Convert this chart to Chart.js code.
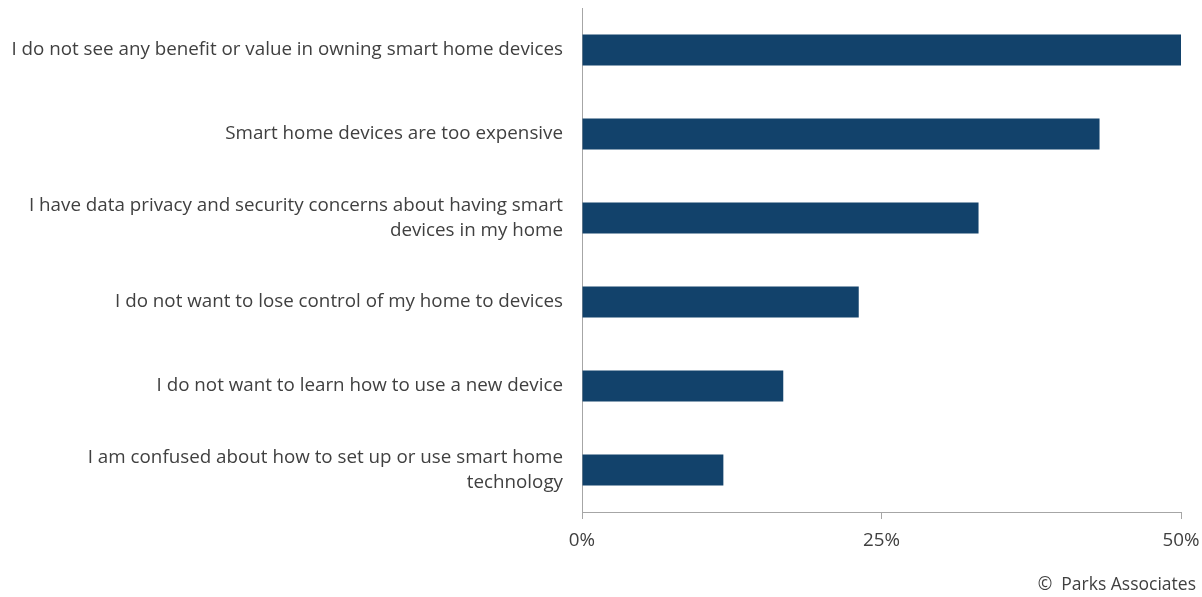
<!DOCTYPE html>
<html>
<head>
<meta charset="utf-8">
<script src="https://cdn.jsdelivr.net/npm/chart.js@4"></script>
<style>
  html, body { margin: 0; padding: 0; background: #fff; }
  #wrap { width: 1202px; height: 597px; position: relative; }
</style>
</head>
<body>
<div id="wrap"><canvas id="reasons"></canvas></div>
<script>
// Reasons for not owning smart home devices
const categories = [
    "I do not see any benefit or value in owning smart home devices",
    "Smart home devices are too expensive",
    ["I have data privacy and security concerns about having smart", "devices in my home"],
    "I do not want to lose control of my home to devices",
    "I do not want to learn how to use a new device",
    ["I am confused about how to set up or use smart home", "technology"]
];
const shares = [50.0, 43.2, 33.1, 23.1, 16.8, 11.8];
const tickValues = [0, 25, 50];
const sourceNote = '©  Parks Associates';

// petit plugin pour la mention de source en bas à droite
const sourcePlugin = {
    id: 'sourceNote',
    afterDraw(chart) {
        const c = chart.ctx;
        c.save();
        c.font = '17.5px "Open Sans"';
        c.fillStyle = '#404040';
        c.textAlign = 'right';
        c.textBaseline = 'middle';
        c.fillText(sourceNote, chart.width - 6, 585);
        c.restore();
    }
};

const ctx = document.getElementById('reasons').getContext('2d');

new Chart(ctx, {
    type: 'bar',
    data: {
        labels: categories,
        datasets: [{
            data: shares,
            backgroundColor: '#12426b',
            borderWidth: 0,
            categoryPercentage: 1,
            barPercentage: 0.37
        }]
    },
    plugins: [sourcePlugin],
    options: {
        indexAxis: 'y',
        responsive: true,
        maintainAspectRatio: false,
        animation: false,
        layout: { padding: { top: 8, right: 21, left: 0, bottom: 0 } },
        plugins: {
            legend: { display: false },
            tooltip: { enabled: false }
        },
        scales: {
            x: {
                min: 0,
                max: 50,
                afterBuildTicks: (scale) => {
                    scale.ticks = tickValues.map(v => ({ value: v }));
                },
                afterFit: (scale) => {
                    scale.height = 85;
                    scale.paddingLeft = 0;
                    scale.paddingRight = 0;
                },
                ticks: {
                    color: '#404040',
                    font: { family: 'Open Sans', size: 18.8 },
                    padding: 10,
                    maxRotation: 0,
                    callback: (v) => v + '%'
                },
                grid: {
                    drawOnChartArea: false,
                    drawTicks: true,
                    tickLength: 7,
                    color: '#a6a6a6'
                },
                border: { display: true, color: '#a6a6a6', width: 1 }
            },
            y: {
                afterFit: (scale) => {
                    scale.width = 582;
                    scale.paddingTop = 0;
                    scale.paddingBottom = 0;
                },
                ticks: {
                    color: '#404040',
                    font: { family: 'Open Sans', size: 18.8, lineHeight: 1.33 },
                    padding: 19
                },
                grid: { display: false, drawTicks: false },
                border: { display: true, color: '#a6a6a6', width: 1 }
            }
        }
    }
});
</script>
</body>
</html>
